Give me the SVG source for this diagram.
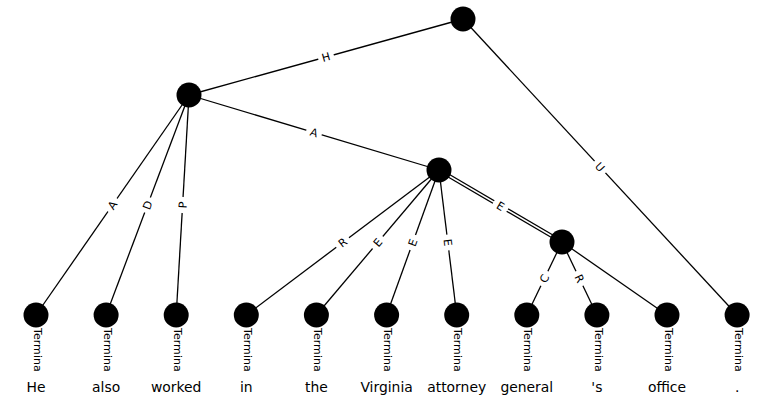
<svg xmlns="http://www.w3.org/2000/svg" width="774" height="407" viewBox="0 0 774 407">
<style>
.e{stroke:#000;stroke-width:1.3;fill:none}
.lb rect{fill:#fff;stroke:none}
.lb text{font-family:"DejaVu Sans",sans-serif;font-size:11.1px;text-anchor:middle;fill:#000}
.n{fill:#000}
.t{font-family:"DejaVu Sans",sans-serif;font-size:11.1px;fill:#000}
.w{font-family:"DejaVu Sans",sans-serif;font-size:13.9px;text-anchor:middle;fill:#000}
</style>
<rect width="774" height="407" fill="#fff"/>
<g id="connectors">
<line class="e" x1="463" y1="19" x2="189" y2="95"/>
<line class="e" x1="463" y1="19" x2="737.1" y2="315"/>
<line class="e" x1="189" y1="95" x2="439" y2="170"/>
<line class="e" x1="189" y1="95" x2="36" y2="315"/>
<line class="e" x1="189" y1="95" x2="106.1" y2="315"/>
<line class="e" x1="189" y1="95" x2="176.2" y2="315"/>
<line class="e" x1="439" y1="170" x2="246.3" y2="315"/>
<line class="e" x1="439" y1="170" x2="316.4" y2="315"/>
<line class="e" x1="439" y1="170" x2="386.6" y2="315"/>
<line class="e" x1="439" y1="170" x2="456.7" y2="315"/>
<line x1="439" y1="170" x2="562" y2="242" stroke="#000" stroke-width="4"/>
<line x1="439" y1="170" x2="562" y2="242" stroke="#fff" stroke-width="1.5"/>
<line class="e" x1="562" y1="242" x2="526.8" y2="315"/>
<line class="e" x1="562" y1="242" x2="596.9" y2="315"/>
<line class="e" x1="562" y1="242" x2="667" y2="315"/>
<g class="lb" transform="translate(326,57) rotate(-15.5)"><rect x="-8" y="-6.5" width="16" height="13" rx="3"/><text y="4">H</text></g>
<g class="lb" transform="translate(600,167) rotate(47.2)"><rect x="-8" y="-6.5" width="16" height="13" rx="3"/><text y="4">U</text></g>
<g class="lb" transform="translate(314,132.5) rotate(16.7)"><rect x="-8" y="-6.5" width="16" height="13" rx="3"/><text y="4">A</text></g>
<g class="lb" transform="translate(112.5,205) rotate(-55.2)"><rect x="-8" y="-6.5" width="16" height="13" rx="3"/><text y="4">A</text></g>
<g class="lb" transform="translate(147.5,205) rotate(-69.4)"><rect x="-8" y="-6.5" width="16" height="13" rx="3"/><text y="4">D</text></g>
<g class="lb" transform="translate(182.6,205) rotate(-86.7)"><rect x="-8" y="-6.5" width="16" height="13" rx="3"/><text y="4">P</text></g>
<g class="lb" transform="translate(342.6,242.5) rotate(-37)"><rect x="-8" y="-6.5" width="16" height="13" rx="3"/><text y="4">R</text></g>
<g class="lb" transform="translate(377.7,242.5) rotate(-49.8)"><rect x="-8" y="-6.5" width="16" height="13" rx="3"/><text y="4">E</text></g>
<g class="lb" transform="translate(412.8,242.5) rotate(-70.1)"><rect x="-8" y="-6.5" width="16" height="13" rx="3"/><text y="4">E</text></g>
<g class="lb" transform="translate(447.8,242.5) rotate(83.1)"><rect x="-8" y="-6.5" width="16" height="13" rx="3"/><text y="4">E</text></g>
<g class="lb" transform="translate(500.5,206) rotate(30.3)"><rect x="-8" y="-6.5" width="16" height="13" rx="3"/><text y="4">E</text></g>
<g class="lb" transform="translate(544.4,278.5) rotate(-64.2)"><rect x="-8" y="-6.5" width="16" height="13" rx="3"/><text y="4">C</text></g>
<g class="lb" transform="translate(579.4,278.5) rotate(64.5)"><rect x="-8" y="-6.5" width="16" height="13" rx="3"/><text y="4">R</text></g>
</g>
<g id="n-root"><circle class="n" cx="463" cy="19" r="12.5"/></g>
<g id="n-1"><circle class="n" cx="189" cy="95" r="12.5"/></g>
<g id="n-2"><circle class="n" cx="439" cy="170" r="12.5"/></g>
<g id="n-3"><circle class="n" cx="562" cy="242" r="12.5"/></g>
<g id="t-He"><circle class="n" cx="36" cy="315" r="12.5"/><text class="t" transform="translate(33.6,328) rotate(90)">Termina</text><text class="w" x="36" y="391.5">He</text></g>
<g id="t-also"><circle class="n" cx="106.1" cy="315" r="12.5"/><text class="t" transform="translate(103.7,328) rotate(90)">Termina</text><text class="w" x="106.1" y="391.5">also</text></g>
<g id="t-worked"><circle class="n" cx="176.2" cy="315" r="12.5"/><text class="t" transform="translate(173.8,328) rotate(90)">Termina</text><text class="w" x="176.2" y="391.5">worked</text></g>
<g id="t-in"><circle class="n" cx="246.3" cy="315" r="12.5"/><text class="t" transform="translate(243.9,328) rotate(90)">Termina</text><text class="w" x="246.3" y="391.5">in</text></g>
<g id="t-the"><circle class="n" cx="316.4" cy="315" r="12.5"/><text class="t" transform="translate(314,328) rotate(90)">Termina</text><text class="w" x="316.4" y="391.5">the</text></g>
<g id="t-Virginia"><circle class="n" cx="386.6" cy="315" r="12.5"/><text class="t" transform="translate(384.2,328) rotate(90)">Termina</text><text class="w" x="386.6" y="391.5">Virginia</text></g>
<g id="t-attorney"><circle class="n" cx="456.7" cy="315" r="12.5"/><text class="t" transform="translate(454.3,328) rotate(90)">Termina</text><text class="w" x="456.7" y="391.5">attorney</text></g>
<g id="t-general"><circle class="n" cx="526.8" cy="315" r="12.5"/><text class="t" transform="translate(524.4,328) rotate(90)">Termina</text><text class="w" x="526.8" y="391.5">general</text></g>
<g id="t-s"><circle class="n" cx="596.9" cy="315" r="12.5"/><text class="t" transform="translate(594.5,328) rotate(90)">Termina</text><text class="w" x="596.9" y="391.5">'s</text></g>
<g id="t-office"><circle class="n" cx="667" cy="315" r="12.5"/><text class="t" transform="translate(664.6,328) rotate(90)">Termina</text><text class="w" x="667" y="391.5">office</text></g>
<g id="t-dot"><circle class="n" cx="737.1" cy="315" r="12.5"/><text class="t" transform="translate(734.7,328) rotate(90)">Termina</text><text class="w" x="737.1" y="391.5">.</text></g>
</svg>
